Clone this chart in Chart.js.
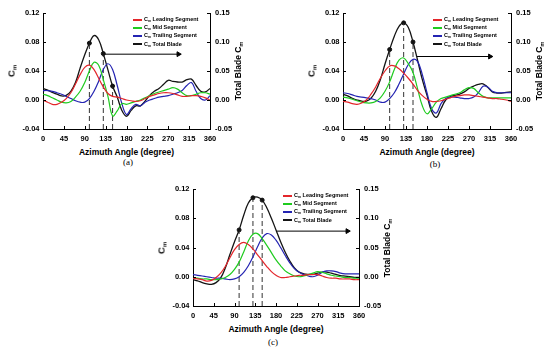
<!DOCTYPE html>
<html>
<head>
<meta charset="utf-8">
<script src="https://cdn.jsdelivr.net/npm/chart.js@4/dist/chart.umd.min.js"></script>
<style>
  body { margin: 0; width: 550px; height: 352px; background: #fff; position: relative; overflow: hidden;
         font-family: "Liberation Sans", Arial, sans-serif; font-weight: bold; color: #000; }
  canvas { position: absolute; }
  .t { position: absolute; white-space: nowrap; transform: translate(-50%, -50%); }
  .rot { transform: translate(-50%, -50%) rotate(-90deg); }
  sub { font-size: 0.62em; vertical-align: -0.3em; line-height: 0; }
  .cap { font-family: "Liberation Serif", "Times New Roman", serif; font-weight: normal; font-size: 9px; }
  .leg { position: absolute; font-size: 5.5px; }
  .leg div { height: 8.2px; line-height: 8.2px; white-space: nowrap; }
  .leg span.sw { display: inline-block; width: 9px; height: 2px; vertical-align: middle; margin-right: 2px; }
</style>
</head>
<body>
<script>
// azimuth angles (degree)
const angles = [0, 10, 20, 30, 40, 50, 60, 70, 80, 90, 100, 110, 120, 130, 140, 150, 160, 170, 180,
  190, 200, 210, 220, 230, 240, 250, 260, 270, 280, 290, 300, 310, 320, 330, 340, 350, 360];

const xTicks = [0, 45, 90, 135, 180, 225, 270, 315, 360];
const leftTicks = [-0.04, 0, 0.04, 0.08, 0.12];
const rightTicks = [-0.05, 0, 0.05, 0.10, 0.15];
const markAngles = [100, 130, 150];

// (a)
const redA = [0, -0.003, -0.006, -0.006, -0.003, 0.002, 0.010, 0.022, 0.035, 0.045, 0.048, 0.042, 0.030, 0.018, 0.009, 0.005, 0.004, 0.002, 0,
  -0.001, -0.002, -0.001, 0.002, 0.005, 0.007, 0.009, 0.010, 0.010, 0.009, 0.007, 0.005, 0.005, 0.006, 0.006, 0.005, 0.003, 0];
const greenA = [0.008, 0.006, 0.003, 0, -0.003, -0.004, -0.002, 0.004, 0.012, 0.024, 0.040, 0.052, 0.048, 0.028, 0.005, -0.022, -0.015, -0.005, -0.006,
  -0.004, -0.002, 0, 0.003, 0.006, 0.009, 0.011, 0.013, 0.015, 0.017, 0.015, 0.010, 0.006, 0.006, 0.008, 0.010, 0.010, 0.008];
const blueA = [0.013, 0.013, 0.012, 0.010, 0.008, 0.005, 0.002, -0.001, -0.003, -0.003, 0.002, 0.012, 0.026, 0.042, 0.050, 0.042, 0.020, -0.005, -0.020,
  -0.012, -0.006, -0.008, -0.003, 0, 0.002, 0.004, 0.005, 0.006, 0.008, 0.010, 0.013, 0.020, 0.024, 0.012, 0.002, 0, 0.006];
const totalA = [0.020, 0.017, 0.013, 0.010, 0.007, 0.008, 0.015, 0.030, 0.055, 0.078, 0.098, 0.111, 0.104, 0.080, 0.052, 0.024, 0.005, -0.018, -0.028,
  -0.018, -0.010, -0.010, -0.002, 0.008, 0.015, 0.020, 0.027, 0.034, 0.032, 0.031, 0.031, 0.035, 0.036, 0.025, 0.015, 0.014, 0.020];
const arrowXA = [130, 292];
const arrowYA = 0.079;

// (b)
const redB = [-0.002, -0.003, -0.005, -0.006, -0.004, 0, 0.008, 0.018, 0.030, 0.040, 0.047, 0.047, 0.043, 0.037, 0.030, 0.022, 0.013, 0.006, 0.001,
  -0.002, -0.002, -0.001, 0.001, 0.003, 0.005, 0.006, 0.007, 0.007, 0.006, 0.005, 0.004, 0.003, 0.002, 0.002, 0.001, 0, -0.002];
const greenB = [0.004, 0.003, 0.001, -0.001, -0.003, -0.004, -0.004, -0.002, 0.003, 0.012, 0.025, 0.042, 0.055, 0.058, 0.050, 0.038, 0.015, -0.008, -0.019,
  -0.012, -0.003, 0.002, 0.004, 0.006, 0.008, 0.010, 0.014, 0.017, 0.016, 0.010, 0.005, 0.003, 0.003, 0.003, 0.003, 0.003, 0.003];
const blueB = [0.010, 0.009, 0.007, 0.005, 0.004, 0.003, 0.002, 0, -0.003, -0.003, 0.002, 0.010, 0.022, 0.036, 0.049, 0.056, 0.053, 0.035, 0.010,
  -0.012, -0.018, -0.005, 0.002, 0.004, 0.004, 0.003, 0.002, 0.002, 0.004, 0.010, 0.019, 0.018, 0.012, 0.010, 0.010, 0.010, 0.010];
const totalB = [0.010, 0.007, 0.003, 0, -0.002, -0.002, 0.003, 0.015, 0.035, 0.062, 0.087, 0.110, 0.127, 0.133, 0.125, 0.100, 0.068, 0.035, 0.008,
  -0.020, -0.030, -0.015, 0, 0.006, 0.008, 0.010, 0.014, 0.020, 0.024, 0.027, 0.028, 0.022, 0.014, 0.012, 0.012, 0.013, 0.014];
const arrowXB = [158, 315];
const arrowYB = 0.075;

// (c)
const redC = [-0.002, -0.003, -0.004, -0.006, -0.005, -0.001, 0.005, 0.014, 0.026, 0.037, 0.044, 0.047, 0.044, 0.038, 0.030, 0.022, 0.014, 0.007, 0.002,
  -0.001, -0.001, 0, 0.001, 0.002, 0.002, 0.003, 0.003, 0.003, 0.001, -0.001, -0.002, -0.002, -0.003, -0.003, -0.003, -0.004, -0.004];
const greenC = [-0.002, -0.002, -0.003, -0.003, -0.004, -0.004, -0.003, -0.001, 0.003, 0.010, 0.020, 0.034, 0.049, 0.058, 0.059, 0.052, 0.043, 0.033, 0.023,
  0.015, 0.008, 0.004, 0.001, 0, 0.001, 0.003, 0.005, 0.007, 0.006, 0.004, 0.002, 0.001, 0, -0.001, -0.001, -0.002, -0.002];
const blueC = [0.003, 0.002, 0.001, 0, -0.001, -0.002, -0.002, -0.003, -0.004, -0.003, 0, 0.006, 0.015, 0.027, 0.041, 0.053, 0.059, 0.057, 0.050,
  0.040, 0.029, 0.019, 0.011, 0.006, 0.003, 0.001, 0, 0.002, 0.006, 0.008, 0.008, 0.007, 0.005, 0.004, 0.004, 0.004, 0.004];
const totalC = [-0.005, -0.007, -0.010, -0.012, -0.013, -0.010, -0.002, 0.015, 0.038, 0.060, 0.080, 0.105, 0.126, 0.135, 0.136, 0.131, 0.118, 0.100, 0.080,
  0.060, 0.042, 0.027, 0.015, 0.008, 0.005, 0.004, 0.004, 0.006, 0.008, 0.008, 0.006, 0.004, 0.002, 0.001, 0, -0.001, -0.001];
const arrowXC = [181, 335];
const arrowYC = 0.078;

const legendNames = ['Leading Segment', 'Mid Segment', 'Trailing Segment', 'Total Blade'];
const colors = ['#e3262b', '#1fcb1f', '#2424b2', '#141414'];

const panels = [
  { plot: { x: 43, y: 13, w: 167, h: 116 }, cap: '(a)', capPos: [128, 162], series: [redA, greenA, blueA, totalA], arrowX: arrowXA, arrowY: arrowYA },
  { plot: { x: 343, y: 13, w: 168, h: 116 }, cap: '(b)', capPos: [435, 164], series: [redB, greenB, blueB, totalB], arrowX: arrowXB, arrowY: arrowYB },
  { plot: { x: 193, y: 189, w: 166, h: 117 }, cap: '(c)', capPos: [273, 342], series: [redC, greenC, blueC, totalC], arrowX: arrowXC, arrowY: arrowYC }
];

// small inward tick marks on the three axes
const innerTicks = {
  id: 'innerTicks',
  afterDraw(chart) {
    const { ctx, chartArea: a, scales } = chart;
    ctx.save();
    ctx.strokeStyle = '#000';
    ctx.lineWidth = 1;
    ctx.beginPath();
    scales.x.ticks.forEach(t => {
      const px = Math.round(scales.x.getPixelForValue(t.value)) + 0.5;
      ctx.moveTo(px, a.bottom); ctx.lineTo(px, a.bottom - 3);
    });
    scales.y.ticks.forEach(t => {
      const py = Math.round(scales.y.getPixelForValue(t.value)) + 0.5;
      ctx.moveTo(a.left, py); ctx.lineTo(a.left + 3, py);
    });
    scales.y2.ticks.forEach(t => {
      const py = Math.round(scales.y2.getPixelForValue(t.value)) + 0.5;
      ctx.moveTo(a.right, py); ctx.lineTo(a.right - 3, py);
    });
    ctx.stroke();
    ctx.restore();
  }
};

function addText(html, x, y, cls, size) {
  const d = document.createElement('div');
  d.className = cls;
  d.innerHTML = html;
  d.style.left = x + 'px';
  d.style.top = y + 'px';
  if (size) d.style.fontSize = size + 'px';
  document.body.appendChild(d);
}

function pts(arr) {
  return arr.map((v, i) => ({ x: angles[i], y: v }));
}

function makePanel(p) {
  const { x, y, w, h } = p.plot;
  const cv = document.createElement('canvas');
  const W = w + 75, H = h + 30;
  cv.width = W; cv.height = H;
  cv.style.left = (x - 40) + 'px';
  cv.style.top = (y - 13) + 'px';
  document.body.appendChild(cv);

  const total = p.series[3];
  const dashPts = [];
  markAngles.forEach(a => {
    dashPts.push({ x: a, y: -0.05 }, { x: a, y: total[angles.indexOf(a)] }, { x: a, y: null });
  });
  const markPts = markAngles.map(a => ({ x: a, y: total[angles.indexOf(a)] }));

  const datasets = p.series.map((s, i) => ({
    data: pts(s),
    borderColor: colors[i],
    borderWidth: i === 3 ? 1.3 : 1.2,
    pointRadius: 0,
    tension: 0.4,
    yAxisID: i === 3 ? 'y2' : 'y'
  }));
  datasets.push({
    data: dashPts, borderColor: '#333', borderWidth: 1, borderDash: [5, 3],
    pointRadius: 0, tension: 0, spanGaps: false, yAxisID: 'y2'
  });
  datasets.push({
    data: markPts, showLine: false, pointRadius: 2, pointBackgroundColor: '#111',
    pointBorderColor: '#111', yAxisID: 'y2'
  });
  datasets.push({
    data: [{ x: p.arrowX[0], y: p.arrowY }, { x: p.arrowX[1], y: p.arrowY }],
    borderColor: '#000', borderWidth: 1, tension: 0, yAxisID: 'y2',
    pointRadius: [0, 2.8], pointStyle: 'triangle', pointRotation: 90,
    pointBackgroundColor: '#000', pointBorderColor: '#000', clip: false
  });

  const tickFont = { family: 'Liberation Sans', weight: 'bold', size: 7.5 };
  new Chart(cv, {
    type: 'line',
    data: { datasets },
    options: {
      responsive: false,
      animation: false,
      events: [],
      layout: { padding: { left: 10, right: 5, top: 13, bottom: 0 } },
      plugins: { legend: { display: false }, tooltip: { enabled: false } },
      scales: {
        x: {
          type: 'linear', min: 0, max: 360,
          grid: { display: false, drawTicks: false },
          border: { display: true, color: '#000', width: 1 },
          ticks: { font: tickFont, color: '#000', padding: 5, maxRotation: 0, autoSkip: false },
          afterBuildTicks: s => { s.ticks = xTicks.map(v => ({ value: v })); },
          afterFit: s => { s.height = 17; }
        },
        y: {
          position: 'left', min: -0.04, max: 0.12,
          grid: { display: false, drawTicks: false },
          border: { display: true, color: '#000', width: 1 },
          ticks: { font: tickFont, color: '#000', padding: 3.5, callback: v => v.toFixed(2) },
          afterBuildTicks: s => { s.ticks = leftTicks.map(v => ({ value: v })); },
          afterFit: s => { s.width = 30; }
        },
        y2: {
          position: 'right', min: -0.05, max: 0.15,
          grid: { display: false, drawTicks: false },
          border: { display: true, color: '#000', width: 1 },
          ticks: { font: tickFont, color: '#000', padding: 5, callback: v => v.toFixed(2) },
          afterBuildTicks: s => { s.ticks = rightTicks.map(v => ({ value: v })); },
          afterFit: s => { s.width = 30; }
        }
      }
    },
    plugins: [innerTicks]
  });

  // axis titles, caption and legend
  addText('C<sub>m</sub>', x - 32, y + h / 2, 't rot', 9.5);
  addText('Total Blade C<sub>m</sub>', x + w + 28, y + h / 2, 't rot', 8.5);
  addText('Azimuth Angle (degree)', x + w / 2, y + h + 23, 't', 8.5);
  addText(p.cap, p.capPos[0], p.capPos[1], 't cap');

  const leg = document.createElement('div');
  leg.className = 'leg';
  leg.style.left = (x + 90) + 'px';
  leg.style.top = (y + 2) + 'px';
  legendNames.forEach((n, i) => {
    const row = document.createElement('div');
    row.innerHTML = '<span class="sw" style="background:' + colors[i] + '"></span>C<sub>m</sub> ' + n;
    leg.appendChild(row);
  });
  document.body.appendChild(leg);
}

panels.forEach(makePanel);
</script>
</body>
</html>
